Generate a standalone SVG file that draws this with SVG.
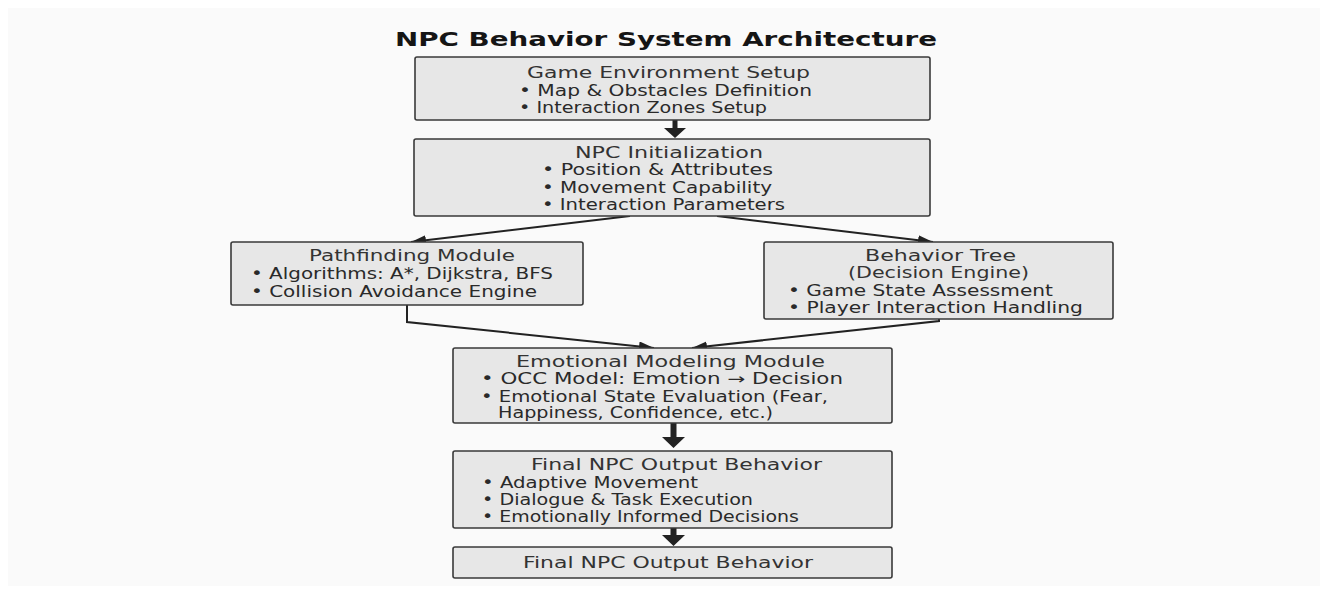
<svg xmlns="http://www.w3.org/2000/svg" width="1328" height="594" viewBox="0 0 1328 594">
<style>
.bg{fill:#fafafa}
.box{fill:#e7e7e7;stroke:#3a3a3a;stroke-width:1.6}
text{font-family:"DejaVu Sans","Liberation Sans",sans-serif;fill:#2a2a2a;font-size:15px}
.h{fill:#333}
.title{font-size:20px;font-weight:bold;fill:#151515}
.conn{fill:none;stroke:#222;stroke-width:2}
.thick{fill:#222}
</style>
<defs>
<marker id="ah" markerUnits="userSpaceOnUse" markerWidth="16" markerHeight="12" refX="15" refY="5" orient="auto">
<path d="M0,0 L15,5 L0,10 z" fill="#222"/>
</marker>
</defs>
<rect x="0" y="0" width="1328" height="594" fill="#ffffff"/>
<rect class="bg" x="8" y="8" width="1312" height="578"/>
<text class="title" x="395" y="46" textLength="542" lengthAdjust="spacingAndGlyphs">NPC Behavior System Architecture</text>

<g id="connectors">
<path class="thick" d="M672.5,120 L677.5,120 L677.5,128 L686,128 L675,138 L664,128 L672.5,128 z"/>
<path class="conn" d="M630,216 L411,242" marker-end="url(#ah)"/>
<path class="conn" d="M717,216 L933,242" marker-end="url(#ah)"/>
<path class="conn" d="M407,305 L407,322 L654,348" marker-end="url(#ah)"/>
<path class="conn" d="M939,319 L939,321 L692,348" marker-end="url(#ah)"/>
<path class="thick" d="M670.5,423 L676.5,423 L676.5,437 L685,437 L673.5,448 L662,437 L670.5,437 z"/>
<path class="thick" d="M670.5,528 L676.5,528 L676.5,535 L685,535 L673.5,546 L662,535 L670.5,535 z"/>
</g>

<g id="env">
<rect class="box" x="415" y="57" width="515" height="63" rx="2"/>
<text class="h" x="527" y="78" textLength="283" lengthAdjust="spacingAndGlyphs">Game Environment Setup</text>
<text x="519" y="96" textLength="293" lengthAdjust="spacingAndGlyphs">• Map &amp; Obstacles Definition</text>
<text x="519" y="113" textLength="248" lengthAdjust="spacingAndGlyphs">• Interaction Zones Setup</text>
</g>

<g id="init">
<rect class="box" x="414" y="139" width="516" height="77" rx="2"/>
<text class="h" x="575" y="158" textLength="188" lengthAdjust="spacingAndGlyphs">NPC Initialization</text>
<text x="542" y="175" textLength="231" lengthAdjust="spacingAndGlyphs">• Position &amp; Attributes</text>
<text x="542" y="193" textLength="230" lengthAdjust="spacingAndGlyphs">• Movement Capability</text>
<text x="542" y="210" textLength="243" lengthAdjust="spacingAndGlyphs">• Interaction Parameters</text>
</g>

<g id="pathfinding">
<rect class="box" x="231" y="242" width="352" height="63" rx="2"/>
<text class="h" x="309" y="261" textLength="206" lengthAdjust="spacingAndGlyphs">Pathfinding Module</text>
<text x="251" y="279" textLength="302" lengthAdjust="spacingAndGlyphs">• Algorithms: A*, Dijkstra, BFS</text>
<text x="251" y="297" textLength="286" lengthAdjust="spacingAndGlyphs">• Collision Avoidance Engine</text>
</g>

<g id="behavior">
<rect class="box" x="764" y="242" width="349" height="77" rx="2"/>
<text class="h" x="865" y="261" textLength="151" lengthAdjust="spacingAndGlyphs">Behavior Tree</text>
<text class="h" x="848" y="278" textLength="181" lengthAdjust="spacingAndGlyphs">(Decision Engine)</text>
<text x="788" y="296" textLength="265" lengthAdjust="spacingAndGlyphs">• Game State Assessment</text>
<text x="788" y="313" textLength="295" lengthAdjust="spacingAndGlyphs">• Player Interaction Handling</text>
</g>

<g id="emotional">
<rect class="box" x="453" y="348" width="439" height="75" rx="2"/>
<text class="h" x="516" y="367" textLength="309" lengthAdjust="spacingAndGlyphs">Emotional Modeling Module</text>
<text x="481" y="384" textLength="362" lengthAdjust="spacingAndGlyphs">• OCC Model: Emotion → Decision</text>
<text x="481" y="402" textLength="347" lengthAdjust="spacingAndGlyphs">• Emotional State Evaluation (Fear,</text>
<text x="498" y="418" textLength="275" lengthAdjust="spacingAndGlyphs">Happiness, Confidence, etc.)</text>
</g>

<g id="final1">
<rect class="box" x="453" y="451" width="439" height="77" rx="2"/>
<text class="h" x="531" y="470" textLength="291" lengthAdjust="spacingAndGlyphs">Final NPC Output Behavior</text>
<text x="482" y="488" textLength="216" lengthAdjust="spacingAndGlyphs">• Adaptive Movement</text>
<text x="482" y="505" textLength="271" lengthAdjust="spacingAndGlyphs">• Dialogue &amp; Task Execution</text>
<text x="482" y="522" textLength="317" lengthAdjust="spacingAndGlyphs">• Emotionally Informed Decisions</text>
</g>

<g id="final2">
<rect class="box" x="453" y="547" width="439" height="31" rx="2"/>
<text class="h" x="523" y="568" textLength="290" lengthAdjust="spacingAndGlyphs">Final NPC Output Behavior</text>
</g>
</svg>
